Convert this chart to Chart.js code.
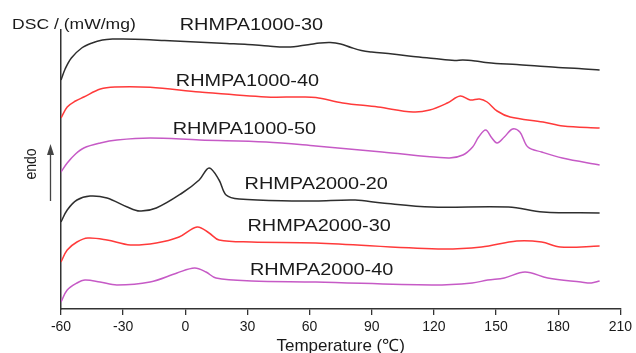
<!DOCTYPE html>
<html>
<head>
<meta charset="utf-8">
<script src="https://cdn.jsdelivr.net/npm/chart.js@4/dist/chart.umd.min.js"></script>
<style>
  html, body { margin: 0; padding: 0; background: #ffffff; }
  #wrap { width: 636px; height: 353px; position: relative; }
</style>
</head>
<body>
<div id="wrap"><canvas id="c"></canvas></div>
<script>
// ---- Data (temperature in °C, DSC signal in arbitrary stacked units) ----
const seriesNames = ["RHMPA1000-30", "RHMPA1000-40", "RHMPA1000-50", "RHMPA2000-20", "RHMPA2000-30", "RHMPA2000-40"];

const t1000_30 = [-60, -58, -55, -50, -45, -40, -35, -30, -20, -10, 0, 10, 20, 30, 40, 48, 55, 60, 65, 70, 75, 80, 85, 90, 100, 110, 120, 130, 134, 140, 145, 150, 160, 170, 180, 190, 200];
const v1000_30 = [229, 240, 251, 261, 266, 269, 270, 270, 269.5, 268.5, 267.5, 266.5, 265.5, 264.5, 263, 262, 263, 264.5, 266, 266.5, 265, 261.5, 258.5, 257, 255, 252.5, 250.5, 248.5, 249, 248, 246.5, 245.5, 244.5, 243, 241.5, 240.5, 239];

const t1000_40 = [-60, -57, -53, -49, -41, -34, -17, 7, 39, 55, 63, 76, 93, 110, 118, 126.5, 132.7, 137.5, 142, 145.7, 150.5, 156.8, 172.7, 182.3, 200];
const v1000_40 = [191, 202, 208, 212, 220, 222, 221.7, 217, 212, 212, 211.5, 206, 202, 197, 199, 206, 213, 209, 210, 207, 198, 192, 187, 183, 181];

const t1000_50 = [-60, -57, -53, -49, -41, -33, -17, 7, 39, 63, 95, 127, 134, 138.7, 141.6, 145, 148, 150.5, 154, 158, 161.5, 165.4, 172, 182, 200];
const v1000_50 = [137, 146, 155, 161, 166, 169, 171, 169, 167, 163, 157, 151, 154, 162, 172, 179, 171, 166, 172, 180, 177, 162, 157, 151, 144];

const t2000_20 = [-60, -57, -52.3, -46, -37.8, -28, -22, -14, -1.5, 6.7, 11.5, 16.3, 19.7, 26, 55, 63, 82, 95, 119, 156, 172.7, 200];
const v2000_20 = [87, 99, 109, 113, 111, 102, 98, 101, 116, 129, 141, 129, 114, 110, 108, 108, 109, 106, 102, 102, 97, 96];

const t2000_30 = [-60, -57, -52.3, -47, -37.8, -26.5, -14, -3, 5.7, 11.5, 16.3, 32, 63, 122, 143, 160, 172, 181, 200];
const v2000_30 = [47, 59, 67, 71, 69, 64, 66, 72, 82, 76, 69, 67, 66, 60, 62, 68, 67, 62, 63];

const t2000_40 = [-60, -57, -52.3, -48.4, -41.2, -33, -17, -4, 4.5, 10, 14.8, 32, 63, 119, 138.5, 146, 154, 164, 175, 191, 196, 200];
const v2000_40 = [7, 19, 26, 29, 27, 24, 27, 36, 41, 37, 31, 28, 27, 24, 26, 29, 31, 37, 31, 27, 26, 28];

const xTicks = [-60, -30, 0, 30, 60, 90, 120, 150, 180, 210];
const xTitle = "Temperature (\u2103)";
const yTitle = "DSC / (mW/mg)";
const endoLabel = "endo";

// label anchors in data units (left edge temperature, vertical centre value)
const labelT = [-2.7, -4.6, -6.1, 28.6, 30, 31.2];
const labelV = [283.5, 227.5, 180, 124.5, 82.5, 39];

// ---- Build chart ----
const pairs = (t, v) => t.map((x, i) => ({ x: x, y: v[i] }));
const allT = [t1000_30, t1000_40, t1000_50, t2000_20, t2000_30, t2000_40];
const allV = [v1000_30, v1000_40, v1000_50, v2000_20, v2000_30, v2000_40];
const colors = ["#2e2e2e", "#ff3a3a", "#c65ac6", "#2e2e2e", "#ff3a3a", "#c65ac6"];

const datasets = seriesNames.map((name, i) => ({
  label: name,
  data: pairs(allT[i], allV[i]),
  borderColor: colors[i],
  backgroundColor: colors[i],
  borderWidth: 1.5,
  pointRadius: 0,
  fill: false,
  tension: 0.35
}));

const FONT = '"Liberation Sans", Arial, sans-serif';
const STRETCH = 1.17;

function stretchText(ctx, text, x, cy, size, sx) {
  ctx.save();
  ctx.font = size + "px " + FONT;
  ctx.textBaseline = "middle";
  ctx.textAlign = "left";
  ctx.fillStyle = "#1a1a1a";
  ctx.translate(x, cy);
  ctx.scale(sx, 1);
  ctx.fillText(text, 0, 0);
  ctx.restore();
}

const annotations = {
  id: "annotations",
  afterDraw(chart) {
    const ctx = chart.ctx;
    const xs = chart.scales.x, ys = chart.scales.y;
    seriesNames.forEach((name, i) => {
      stretchText(ctx, name, xs.getPixelForValue(labelT[i]), ys.getPixelForValue(labelV[i]), 17, STRETCH);
    });
    stretchText(ctx, yTitle, 12, 25, 15, STRETCH);
    ctx.save();
    ctx.font = "14px " + FONT;
    ctx.fillStyle = "#1a1a1a";
    ctx.textAlign = "center";
    ctx.textBaseline = "middle";
    ctx.translate(31, 164);
    ctx.rotate(-Math.PI / 2);
    ctx.scale(1, STRETCH);
    ctx.fillText(endoLabel, 0, 0);
    ctx.restore();
    ctx.save();
    ctx.strokeStyle = "#444";
    ctx.fillStyle = "#444";
    ctx.lineWidth = 1.3;
    ctx.beginPath();
    ctx.moveTo(50.5, 201);
    ctx.lineTo(50.5, 153);
    ctx.stroke();
    ctx.beginPath();
    ctx.moveTo(50.5, 144);
    ctx.lineTo(47, 155);
    ctx.lineTo(54, 155);
    ctx.closePath();
    ctx.fill();
    ctx.restore();
  }
};

new Chart(document.getElementById("c"), {
  type: "line",
  data: { datasets: datasets },
  plugins: [annotations],
  options: {
    responsive: true,
    maintainAspectRatio: false,
    animation: false,
    events: [],
    layout: { padding: { left: 61, right: 14, top: 30, bottom: 0 } },
    plugins: { legend: { display: false }, tooltip: { enabled: false } },
    scales: {
      x: {
        type: "linear",
        min: -60,
        max: 210,
        afterBuildTicks: (s) => { s.ticks = xTicks.map(v => ({ value: v })); },
        afterFit: (s) => { s.height = 44; },
        ticks: {
          color: "#1a1a1a",
          font: { family: FONT, size: 14 },
          padding: 4,
          maxRotation: 0
        },
        grid: {
          display: true,
          drawOnChartArea: false,
          drawTicks: true,
          tickLength: 6,
          color: "#333",
          lineWidth: 1.3
        },
        border: { display: true, color: "#333", width: 1.5 },
        title: {
          display: true,
          text: xTitle,
          color: "#1a1a1a",
          font: { family: FONT, size: 17 },
          padding: { top: 0, bottom: -4 }
        }
      },
      y: {
        type: "linear",
        min: 0,
        max: 279,
        afterFit: (s) => { s.width = 0; },
        ticks: { display: false },
        grid: { display: false },
        border: { display: true, color: "#333", width: 1.5 }
      }
    }
  }
});
</script>
</body>
</html>
